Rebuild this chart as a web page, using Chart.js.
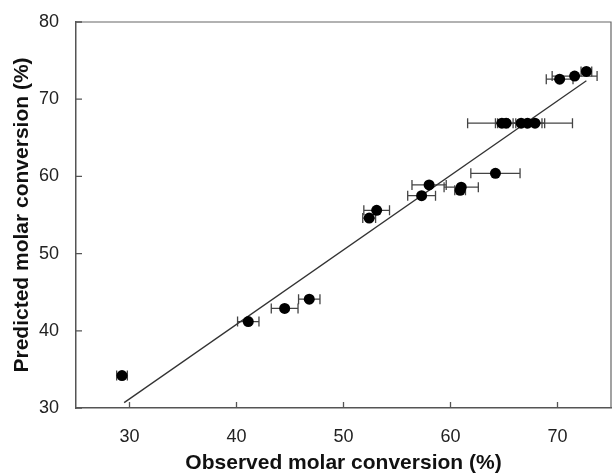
<!DOCTYPE html>
<html>
<head>
<meta charset="utf-8">
<script src="https://cdn.jsdelivr.net/npm/chart.js@4/dist/chart.umd.min.js"></script>
<style>
  html, body { margin: 0; padding: 0; background: #fff; }
  canvas { display: block; }
</style>
</head>
<body>
<canvas id="chart" width="612" height="476"></canvas>
<script>
// observed vs predicted molar conversion (%), with horizontal error bars on observed
const xObs  = [29.3, 41.1, 44.5, 46.8, 52.4, 53.1, 57.3, 58.0, 60.9, 61.0, 64.2, 64.8, 65.2, 66.6, 67.2, 67.9, 70.2, 71.6, 72.7];
const yPred = [34.2, 41.2, 42.9, 44.1, 54.6, 55.6, 57.5, 58.9, 58.2, 58.6, 60.4, 66.9, 66.9, 66.9, 66.9, 66.9, 72.6, 73.0, 73.6];
const xErr  = [0.5, 1.0, 1.25, 1.0, 0.6, 1.2, 1.3, 1.6, 0.5, 1.6, 2.3, 0.6, 3.6, 0.5, 1.35, 3.5, 1.25, 2.1, 0.5];

// fitted line end points
const fitX = [29.5, 72.7];
const fitY = [30.7, 72.4];

const xTicks = [30, 40, 50, 60, 70];
const yTicks = [30, 40, 50, 60, 70, 80];

const FONT = "'Liberation Sans', Arial, sans-serif";

const errorBars = {
    id: 'errorBars',
    beforeDatasetsDraw(chart) {
        const { ctx, scales: { x, y } } = chart;
        ctx.save();
        ctx.strokeStyle = '#444';
        ctx.lineWidth = 1.3;
        xObs.forEach((v, i) => {
            const x1 = x.getPixelForValue(v - xErr[i]);
            const x2 = x.getPixelForValue(v + xErr[i]);
            const py = y.getPixelForValue(yPred[i]);
            ctx.beginPath();
            ctx.moveTo(x1, py); ctx.lineTo(x2, py);
            ctx.moveTo(x1, py - 5); ctx.lineTo(x1, py + 5);
            ctx.moveTo(x2, py - 5); ctx.lineTo(x2, py + 5);
            ctx.stroke();
        });
        ctx.restore();
    }
};

// top/right frame lines and inward tick marks
const frame = {
    id: 'frame',
    afterDraw(chart) {
        const { ctx, chartArea: a, scales: { x, y } } = chart;
        ctx.save();
        ctx.strokeStyle = '#666';
        ctx.lineWidth = 1.2;
        ctx.beginPath();
        ctx.moveTo(a.left, a.top); ctx.lineTo(a.right, a.top); ctx.lineTo(a.right, a.bottom);
        ctx.stroke();
        ctx.strokeStyle = '#555';
        ctx.lineWidth = 1.3;
        ctx.beginPath();
        x.ticks.forEach(t => {
            const px = x.getPixelForValue(t.value);
            ctx.moveTo(px, a.bottom); ctx.lineTo(px, a.bottom - 6);
        });
        y.ticks.forEach(t => {
            const py = y.getPixelForValue(t.value);
            ctx.moveTo(a.left, py); ctx.lineTo(a.left + 6, py);
        });
        ctx.stroke();
        ctx.restore();
    }
};

new Chart(document.getElementById('chart'), {
    type: 'scatter',
    data: {
        datasets: [{
            data: xObs.map((v, i) => ({ x: v, y: yPred[i] })),
            backgroundColor: '#000',
            borderWidth: 0,
            pointRadius: 5.5
        }, {
            type: 'line',
            data: fitX.map((v, i) => ({ x: v, y: fitY[i] })),
            borderColor: '#333',
            borderWidth: 1.3,
            pointRadius: 0,
            fill: false
        }]
    },
    options: {
        responsive: false,
        animation: false,
        layout: { autoPadding: false, padding: { top: 22, right: 1, left: 0, bottom: 0 } },
        plugins: { legend: { display: false }, tooltip: { enabled: false } },
        scales: {
            x: {
                type: 'linear',
                min: 25, max: 75,
                afterBuildTicks: s => { s.ticks = xTicks.map(v => ({ value: v })); },
                afterFit: s => { s.height = 68; s.paddingLeft = 0; s.paddingRight = 0; },
                grid: { display: false },
                border: { color: '#555', width: 1.5 },
                ticks: { padding: 10, color: '#222', font: { family: FONT, size: 18 } },
                title: {
                    display: true, text: 'Observed molar conversion (%)', color: '#111',
                    font: { family: FONT, size: 21, weight: 'bold' }, padding: { top: 0, bottom: 0 }
                }
            },
            y: {
                type: 'linear',
                min: 30, max: 80,
                afterBuildTicks: s => { s.ticks = yTicks.map(v => ({ value: v })); },
                afterFit: s => { s.width = 76; s.paddingTop = 0; s.paddingBottom = 0; },
                grid: { display: false },
                border: { color: '#555', width: 1.5 },
                ticks: { padding: 9, color: '#222', font: { family: FONT, size: 18 } },
                title: {
                    display: true, text: 'Predicted molar conversion (%)', color: '#111',
                    font: { family: FONT, size: 21, weight: 'bold' }, padding: { top: 10, bottom: 0 }
                }
            }
        }
    },
    plugins: [errorBars, frame]
});
</script>
</body>
</html>
